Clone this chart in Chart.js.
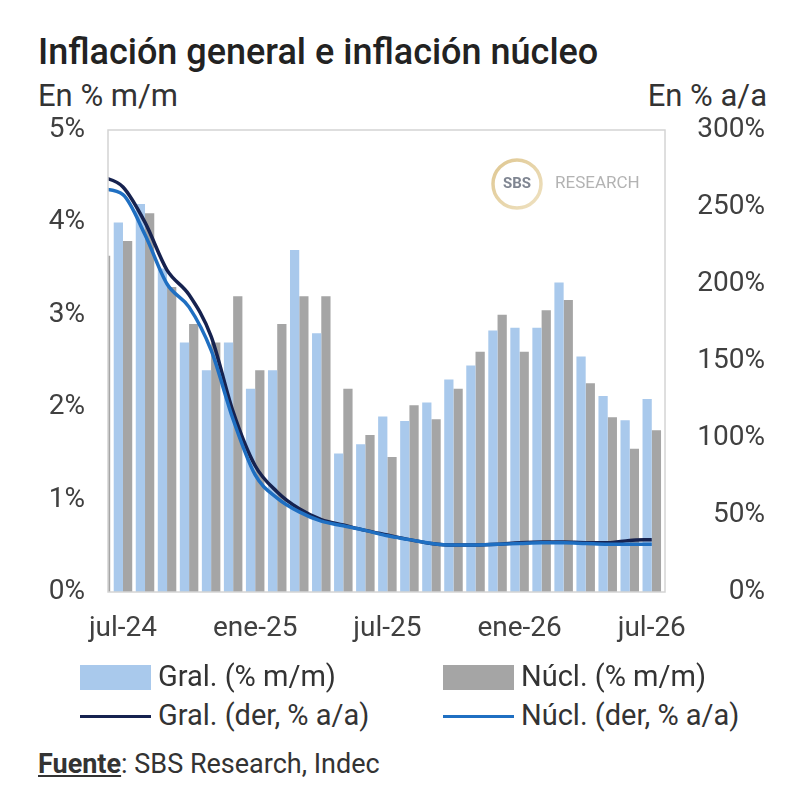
<!DOCTYPE html>
<html>
<head>
<meta charset="utf-8">
<script src="https://cdn.jsdelivr.net/npm/chart.js@4.4.1/dist/chart.umd.min.js"></script>
<style>
  body { margin: 0; background: #fff; font-family: Roboto, "Noto Sans", sans-serif; color: #333; }
  #wrap { position: relative; width: 800px; height: 808px; overflow: hidden; }
  #box { position: absolute; left: 0; top: 0; width: 800px; height: 660px; }
  .txt { position: absolute; white-space: nowrap; line-height: 1; }
  .title { left: 38px; top: 34px; font-size: 36px; font-weight: 500; color: #222; }
  .sub { top: 80px; font-size: 31px; color: #333; }
  .leg { font-size: 29px; color: #333; }
  .sw { position: absolute; }
  .src { left: 38px; top: 751px; font-size: 27px; color: #333; }
  .src b { font-weight: 700; text-decoration: underline; }
</style>
</head>
<body>
<div id="wrap">
  <div class="txt title">Inflación general e inflación núcleo</div>
  <div class="txt sub" style="left:38px">En % m/m</div>
  <div class="txt sub" style="right:33px">En % a/a</div>
  <div id="box"><canvas id="chart"></canvas></div>
  <div id="legend"></div>
  <div class="txt src"><b>Fuente</b>: SBS Research, Indec</div>
</div>
<script>
// months, starting one month before the first labelled tick (partly cut off at the left edge)
const months = ['jun-24', 'jul-24', 'ago-24', 'sep-24', 'oct-24', 'nov-24', 'dic-24',
                'ene-25', 'feb-25', 'mar-25', 'abr-25', 'may-25', 'jun-25', 'jul-25',
                'ago-25', 'sep-25', 'oct-25', 'nov-25', 'dic-25', 'ene-26', 'feb-26',
                'mar-26', 'abr-26', 'may-26', 'jun-26', 'jul-26'];
const tickMonths = ['jul-24', 'ene-25', 'jul-25', 'ene-26', 'jul-26'];

// % m/m (left axis)
const gralMM = [4.6, 4.0, 4.2, 3.5, 2.7, 2.4, 2.7, 2.2, 2.4, 3.7, 2.8, 1.5, 1.6,
                1.9, 1.85, 2.05, 2.3, 2.45, 2.83, 2.86, 2.86, 3.35, 2.55, 2.12, 1.86, 2.09];
const nuclMM = [3.64, 3.8, 4.1, 3.3, 2.9, 2.7, 3.2, 2.4, 2.9, 3.2, 3.2, 2.2, 1.7,
                1.46, 2.02, 1.87, 2.2, 2.6, 3.0, 2.6, 3.05, 3.16, 2.26, 1.89, 1.55, 1.75];

// % a/a (right axis)
const gralAA = [270, 263, 240, 209, 193, 166, 117, 82, 65, 54, 47, 43.5, 40,
                37, 34, 31.5, 30.5, 30.5, 31, 32, 32.5, 32.5, 32, 32, 33.5, 34];
const nuclAA = [262, 258, 232, 200, 185, 157, 112, 76, 61, 52, 46, 43, 40,
                36.5, 34, 31.5, 30.5, 30.5, 31, 31.5, 32, 32, 31.5, 31, 31, 31];

const COL_GRAL_BAR = '#a9c9ec';
const COL_NUCL_BAR = '#a5a5a5';
const COL_GRAL_LINE = '#16224f';
const COL_NUCL_LINE = '#1f6fc2';

function pts(arr) {
    return arr.map(function(v, i) { return { x: i, y: v }; });
}

const tickFont = { family: 'Roboto', size: 28 };

// frame around the plot + SBS watermark
const framePlugin = {
    id: 'frame',
    beforeDatasetsDraw(chart) {
        const ctx = chart.ctx;
        const a = chart.chartArea;
        ctx.save();
        const cx = a.left + 409, cy = a.top + 54;
        const g = ctx.createLinearGradient(cx - 25, cy - 25, cx + 25, cy + 25);
        g.addColorStop(0, '#dfc791');
        g.addColorStop(1, '#efe2c2');
        ctx.strokeStyle = g;
        ctx.lineWidth = 3.5;
        ctx.beginPath();
        ctx.arc(cx, cy, 24, 0, Math.PI * 2);
        ctx.stroke();
        ctx.fillStyle = '#7f8591';
        ctx.font = 'bold 15px Roboto';
        ctx.textAlign = 'center';
        ctx.textBaseline = 'middle';
        ctx.fillText('SBS', cx, cy);
        ctx.fillStyle = '#b3b3b3';
        ctx.font = '17px Roboto';
        ctx.textAlign = 'left';
        ctx.fillText('RESEARCH', cx + 38, cy);
        ctx.restore();
    },
    afterDraw(chart) {
        const ctx = chart.ctx;
        const a = chart.chartArea;
        ctx.save();
        ctx.strokeStyle = '#d4d4d4';
        ctx.lineWidth = 1.5;
        ctx.strokeRect(a.left, a.top, a.right - a.left, a.bottom - a.top);
        ctx.restore();
    }
};

const data = {
    datasets: [{
        type: 'line',
        label: 'Gral. (der, % a/a)',
        data: pts(gralAA),
        yAxisID: 'y1',
        borderColor: COL_GRAL_LINE,
        borderWidth: 3.5,
        pointRadius: 0,
        cubicInterpolationMode: 'monotone',
        order: 1
    }, {
        type: 'line',
        label: 'Núcl. (der, % a/a)',
        data: pts(nuclAA),
        yAxisID: 'y1',
        borderColor: COL_NUCL_LINE,
        borderWidth: 3.5,
        pointRadius: 0,
        cubicInterpolationMode: 'monotone',
        order: 0
    }, {
        type: 'bar',
        label: 'Gral. (% m/m)',
        data: pts(gralMM),
        yAxisID: 'y',
        backgroundColor: COL_GRAL_BAR,
        categoryPercentage: 0.84,
        barPercentage: 1.0,
        order: 2
    }, {
        type: 'bar',
        label: 'Núcl. (% m/m)',
        data: pts(nuclMM),
        yAxisID: 'y',
        backgroundColor: COL_NUCL_BAR,
        categoryPercentage: 0.84,
        barPercentage: 1.0,
        order: 2
    }]
};

const config = {
    type: 'bar',
    data,
    plugins: [framePlugin],
    options: {
        responsive: true,
        maintainAspectRatio: false,
        animation: false,
        layout: { padding: { left: 0, right: 35, top: 130, bottom: 18 } },
        plugins: { legend: { display: false }, tooltip: { enabled: false } },
        scales: {
            x: {
                type: 'linear',
                offset: false,
                min: 0.32,
                max: 25.6,
                grid: { display: false, drawTicks: false },
                border: { display: false },
                afterBuildTicks: function(scale) {
                    scale.ticks = tickMonths.map(function(m) { return { value: months.indexOf(m) }; });
                },
                afterFit: function(scale) { scale.height = 50; },
                ticks: {
                    autoSkip: false,
                    maxRotation: 0,
                    padding: 20,
                    color: '#404040',
                    font: tickFont,
                    callback: function(v) { return months[v]; }
                }
            },
            y: {
                position: 'left',
                min: 0,
                max: 5,
                grid: { display: false, drawTicks: false },
                border: { display: false },
                afterFit: function(scale) { scale.width = 108; },
                ticks: {
                    stepSize: 1,
                    padding: 23,
                    color: '#404040',
                    font: tickFont,
                    callback: function(v) { return v + '%'; }
                }
            },
            y1: {
                position: 'right',
                min: 0,
                max: 300,
                grid: { display: false, drawTicks: false },
                border: { display: false },
                afterFit: function(scale) { scale.width = 100; },
                ticks: {
                    stepSize: 50,
                    crossAlign: 'far',
                    color: '#404040',
                    font: tickFont,
                    callback: function(v) { return v + '%'; }
                }
            }
        }
    }
};

const myChart = new Chart(document.getElementById('chart'), config);

// legend in two columns, built from the chart's datasets
const legendPos = {
    'Gral. (% m/m)':      { x: 80,  y: 677 },
    'Núcl. (% m/m)':      { x: 443, y: 677 },
    'Gral. (der, % a/a)': { x: 80,  y: 716 },
    'Núcl. (der, % a/a)': { x: 443, y: 716 }
};
const legendEl = document.getElementById('legend');
myChart.data.datasets.forEach(function(ds) {
    const p = legendPos[ds.label];
    const sw = document.createElement('div');
    sw.className = 'sw';
    if (ds.type === 'bar') {
        sw.style.cssText = 'left:' + p.x + 'px;top:' + (p.y - 12) + 'px;width:71px;height:25px;background:' + ds.backgroundColor;
    } else {
        sw.style.cssText = 'left:' + p.x + 'px;top:' + (p.y - 1.5) + 'px;width:71px;height:3.5px;background:' + ds.borderColor;
    }
    legendEl.appendChild(sw);
    const t = document.createElement('div');
    t.className = 'txt leg';
    t.style.left = (p.x + 78) + 'px';
    t.style.top = (p.y - 15) + 'px';
    t.textContent = ds.label;
    legendEl.appendChild(t);
});
</script>
</body>
</html>
